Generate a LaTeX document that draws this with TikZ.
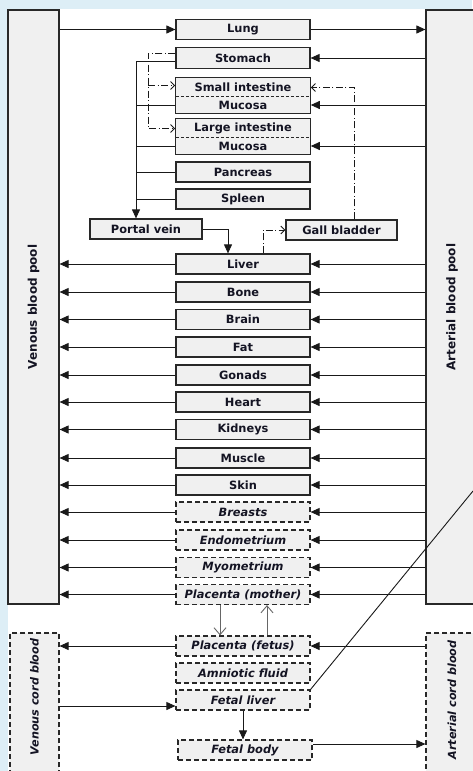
\documentclass[tikz,border=0pt]{standalone}
\usepackage{fontspec}
\setmainfont{DejaVu Sans}
\usetikzlibrary{arrows.meta,positioning,fit,calc}

\definecolor{pagebg}{RGB}{221,238,246}
\definecolor{boxfill}{RGB}{240,240,240}
\definecolor{boxline}{RGB}{40,40,40}
\definecolor{txt}{RGB}{20,20,35}

\begin{document}
\begin{tikzpicture}[
  x=1pt, y=-1pt,
  font=\fontsize{11.4}{13}\selectfont\bfseries,
  organ/.style={draw=boxline, line width=1.2pt, fill=boxfill, rectangle, minimum width=134pt, minimum height=20pt, inner sep=0pt, text=txt},
  extra/.style={organ, dash pattern=on 5pt off 3pt, font=\fontsize{11.4}{13}\selectfont\bfseries\itshape},
  part/.style={fill=boxfill, rectangle, minimum width=134pt, inner sep=0pt, text=txt},
  gut/.style={draw=boxline, line width=1.2pt, rectangle, inner sep=0pt},
  pool/.style={draw=boxline, line width=1.2pt, fill=boxfill, rectangle, minimum width=51pt, minimum height=594pt, inner sep=0pt},
  cord/.style={pool, dash pattern=on 5pt off 3pt, minimum height=157pt},
  pooltext/.style={rotate=90, text=txt, font=\fontsize{12}{14}\selectfont\bfseries},
  cordtext/.style={rotate=90, text=txt, font=\fontsize{11.2}{13}\selectfont\bfseries\itshape},
  line/.style={line width=0.9pt, draw=black!90},
  arr/.style={line, -{Triangle[length=9pt,width=8pt]}},
  dda/.style={line, dash pattern=on 7pt off 2.5pt on 1pt off 2.5pt, -{Straight Barb[length=4pt,width=8pt]}},
  garr/.style={line width=0.9pt, draw=black!60, -{Straight Barb[length=7pt,width=12pt]}},
  divider/.style={line width=0.7pt, densely dashed, draw=boxline}
]
\useasboundingbox (0,0) rectangle (472,771);
\fill[pagebg] (0,0) rectangle (472,771);
\fill[white] (8,9) rectangle (472,771);

% blood pools
\node[pool] (vp) at (33.5,307) {};
\node[pooltext] (vplabel) at (vp.center) {Venous blood pool};
\node[pool, minimum width=52pt] (ap) at (452,307) {};
\node[pooltext] (aplabel) at (ap.center) {Arterial blood pool};
\node[cord, minimum width=49pt] (vc) at (34.5,711.5) {};
\node[cordtext] (vclabel) at (34.5,697) {Venous cord blood};
\node[cord, minimum width=52pt] (ac) at (452,711.5) {};
\node[cordtext] (aclabel) at (452,700) {Arterial cord blood};

% organs
\node[organ] (lung) at (243,29.5) {Lung};
\node[organ, minimum height=21pt] (stom) at (243,58) {Stomach};
\node[part, minimum height=19pt] (sitop) at (243,87.5) {Small intestine};
\node[part, minimum height=16pt] (simuc) at (243,105) {Mucosa};
\node[gut, fit=(sitop)(simuc)] (si) {};
\draw[divider] (simuc.north west) -- (simuc.north east);
\node[part, minimum height=19pt] (litop) at (243,128.5) {Large intestine};
\node[part, minimum height=16pt] (limuc) at (243,146) {Mucosa};
\node[gut, fit=(litop)(limuc)] (li) {};
\draw[divider] (limuc.north west) -- (limuc.north east);
\node[organ] (panc) at (243,172) {Pancreas};
\node[organ] (spl) at (243,199) {Spleen};
\node[organ, minimum width=112pt] (portal) at (146,229) {Portal vein};
\node[organ, minimum width=111pt] (gall) at (341.5,230) {Gall bladder};
\node[organ] (liver) at (243,264) {Liver};
\node[organ] (bone) at (243,292) {Bone};
\node[organ] (brain) at (243,319.5) {Brain};
\node[organ] (fat) at (243,347) {Fat};
\node[organ] (gonads) at (243,375) {Gonads};
\node[organ] (heart) at (243,402) {Heart};
\node[organ] (kidneys) at (243,429.5) {Kidneys};
\node[organ] (muscle) at (243,458) {Muscle};
\node[organ] (skin) at (243,485) {Skin};
\node[extra] (breasts) at (243,512) {Breasts};
\node[extra] (endo) at (243,540) {Endometrium};
\node[extra] (myo) at (243,567.5) {Myometrium};
\node[extra] (placm) at (243,594.5) {Placenta (mother)};
\node[extra] (placf) at (243,646) {Placenta (fetus)};
\node[extra] (amnio) at (243,673) {Amniotic fluid};
\node[extra] (fliver) at (243,700) {Fetal liver};
\node[extra] (fbody) at (245,750) {Fetal body};

% lung
\draw[arr] (lung.west -| vp.east) -- (lung.west);
\draw[arr] (lung.east) -- (lung.east -| ap.west);

% arterial supply of the gut
\draw[arr] (stom.east -| ap.west) -- (stom.east);
\draw[arr] (simuc.east -| ap.west) -- (si.east |- simuc.east);
\draw[arr] (limuc.east -| ap.west) -- (li.east |- limuc.east);

% portal collector
\coordinate (bus) at (136,0);
\draw[arr] ([yshift=-3pt]stom.west) -| ([xshift=-10pt]portal.north);
\draw[line] (si.west |- simuc.west) -- (simuc.west -| bus);
\draw[line] (li.west |- limuc.west) -- (limuc.west -| bus);
\draw[line] (panc.west) -- (panc.west -| bus);
\draw[line] (spl.west) -- (spl.west -| bus);
\draw[arr] (portal.east) -| ([xshift=-15pt]liver.north);

% dash-dot transfers
\coordinate (dbus) at (148,0);
\draw[dda] ([yshift=5pt]stom.west) -| (dbus |- litop.west) -- (li.west |- litop.west);
\draw[dda] ([yshift=2pt]sitop.west -| dbus) -- ([yshift=2pt]si.west |- sitop.west);
\draw[dda] ([xshift=12.5pt]gall.north) |- (si.east |- sitop.east);
\draw[dda] ([xshift=20pt]liver.north) |- (gall.west);

% systemic tissues
\draw[arr] (liver.west) -- (liver.west -| vp.east);
\draw[arr] (liver.east -| ap.west) -- (liver.east);
\draw[arr] (bone.west) -- (bone.west -| vp.east);
\draw[arr] (bone.east -| ap.west) -- (bone.east);
\draw[arr] (brain.west) -- (brain.west -| vp.east);
\draw[arr] (brain.east -| ap.west) -- (brain.east);
\draw[arr] (fat.west) -- (fat.west -| vp.east);
\draw[arr] (fat.east -| ap.west) -- (fat.east);
\draw[arr] (gonads.west) -- (gonads.west -| vp.east);
\draw[arr] (gonads.east -| ap.west) -- (gonads.east);
\draw[arr] (heart.west) -- (heart.west -| vp.east);
\draw[arr] (heart.east -| ap.west) -- (heart.east);
\draw[arr] (kidneys.west) -- (kidneys.west -| vp.east);
\draw[arr] (kidneys.east -| ap.west) -- (kidneys.east);
\draw[arr] (muscle.west) -- (muscle.west -| vp.east);
\draw[arr] (muscle.east -| ap.west) -- (muscle.east);
\draw[arr] (skin.west) -- (skin.west -| vp.east);
\draw[arr] (skin.east -| ap.west) -- (skin.east);
\draw[arr] (breasts.west) -- (breasts.west -| vp.east);
\draw[arr] (breasts.east -| ap.west) -- (breasts.east);
\draw[arr] (endo.west) -- (endo.west -| vp.east);
\draw[arr] (endo.east -| ap.west) -- (endo.east);
\draw[arr] (myo.west) -- (myo.west -| vp.east);
\draw[arr] (myo.east -| ap.west) -- (myo.east);
\draw[arr] (placm.west) -- (placm.west -| vp.east);
\draw[arr] (placm.east -| ap.west) -- (placm.east);

% placental exchange
\draw[garr] ([xshift=-23pt]placm.south) -- ([xshift=-23pt]placf.north);
\draw[garr] ([xshift=24pt]placf.north) -- ([xshift=24pt]placm.south);

% fetal side
\draw[arr] (placf.west) -- (placf.west -| vc.east);
\draw[arr] (placf.east -| ac.west) -- (placf.east);
\draw[arr] ([yshift=-6pt]fliver.west -| vc.east) -- ([yshift=-6pt]fliver.west);
\draw[arr] (fliver.south) -- (fliver.south |- fbody.north);
\draw[arr] ([yshift=6pt]fbody.east) -- ([yshift=6pt]fbody.east -| ac.west);

\coordinate (callout) at (473,491);
\draw[line] (fliver.north east) -- (callout);
\end{tikzpicture}
\end{document}
